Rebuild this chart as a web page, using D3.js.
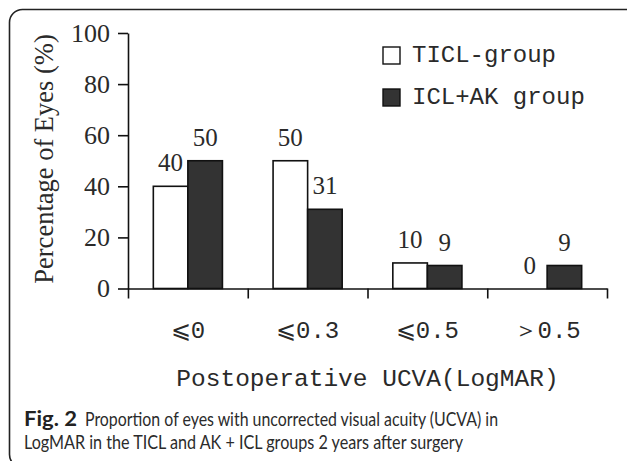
<!DOCTYPE html>
<html>
<head>
<meta charset="utf-8">
<script src="https://cdn.jsdelivr.net/npm/d3@7"></script>
<style>
  body { margin: 0; background: #fff; }
  svg { display: block; }
</style>
</head>
<body>
<svg id="chart"></svg>
<script>
const categories = ['⩽0', '⩽0.3', '⩽0.5', '＞0.5'];
const groups = ['TICL-group', 'ICL+AK group'];
const ticlValues = [40, 50, 10, 0];
const iclAkValues = [50, 31, 9, 9];
const yTicks = [0, 20, 40, 60, 80, 100];
const colors = ['#ffffff', '#333333'];

const width = 627, height = 461;
const margin = { top: 33, right: 20, bottom: 172.5, left: 128 };
const plotW = 607 - margin.left;
const plotH = 288.5 - margin.top;

const svg = d3.select('#chart').attr('width', width).attr('height', height);

// outer rounded frame, right and bottom sides run off the picture
svg.append('rect')
    .attr('x', 9.5).attr('y', 9.5)
    .attr('width', 660).attr('height', 458)
    .attr('rx', 13)
    .attr('fill', 'none')
    .attr('stroke', '#222')
    .attr('stroke-width', 1.6);

const chart = svg.append('g')
    .attr('transform', `translate(${margin.left},${margin.top})`);

const x0 = d3.scaleBand()
    .domain(categories)
    .range([0, plotW])
    .paddingInner(0.423)
    .paddingOuter(0.2115);

const x1 = d3.scaleBand()
    .domain(groups)
    .range([0, x0.bandwidth()]);

const xEdges = d3.scaleLinear()
    .domain([0, categories.length])
    .range([0, plotW]);

const y = d3.scaleLinear()
    .domain([0, 100])
    .range([plotH, 0]);

const rows = categories.map((c, i) => ({ cat: c, values: [ticlValues[i], iclAkValues[i]] }));

const serif = '"Liberation Serif", "Times New Roman", serif';
const mono = '"Liberation Mono", "DejaVu Sans Mono", monospace';

// bars
const groupG = chart.selectAll('.grp')
    .data(rows)
    .join('g')
    .attr('class', 'grp')
    .attr('transform', d => `translate(${x0(d.cat)},0)`);

groupG.selectAll('rect')
    .data(d => d.values.map((v, j) => ({ key: groups[j], v, j })).filter(e => e.v > 0))
    .join('rect')
    .attr('x', d => x1(d.key))
    .attr('y', d => y(d.v))
    .attr('width', x1.bandwidth())
    .attr('height', d => plotH - y(d.v))
    .attr('fill', d => colors[d.j])
    .attr('stroke', '#111')
    .attr('stroke-width', 1.6);

groupG.selectAll('.val')
    .data(d => d.values.map((v, j) => ({ key: groups[j], v, j })))
    .join('text')
    .attr('class', 'val')
    .attr('x', d => x1(d.key) + x1.bandwidth() / 2)
    .attr('y', d => y(d.v) - 15)
    .attr('text-anchor', 'middle')
    .attr('font-family', serif)
    .attr('font-size', 25)
    .attr('fill', '#2a2a2a')
    .text(d => d.v);

// y axis
const yAxisG = chart.append('g')
    .call(d3.axisLeft(y).tickValues(yTicks).tickSize(10).tickPadding(8).tickSizeOuter(0));
yAxisG.selectAll('text')
    .attr('font-family', serif)
    .attr('font-size', 26)
    .attr('fill', '#2a2a2a');

// x axis: boundary ticks
chart.append('g')
    .attr('transform', `translate(0,${plotH})`)
    .call(d3.axisBottom(xEdges).tickValues(d3.range(categories.length + 1)).tickSize(10).tickFormat('').tickSizeOuter(0));

// x axis: category labels
const xLabG = chart.append('g')
    .attr('transform', `translate(0,${plotH})`)
    .call(d3.axisBottom(x0).tickSize(0).tickPadding(32));
xLabG.select('.domain').remove();
xLabG.selectAll('text')
    .attr('font-family', mono)
    .attr('font-size', 24)
    .attr('fill', '#2a2a2a');

chart.selectAll('.domain, .tick line')
    .attr('stroke', '#111')
    .attr('stroke-width', 1.6);

// axis titles
svg.append('text')
    .attr('transform', 'translate(53,159) rotate(-90)')
    .attr('text-anchor', 'middle')
    .attr('font-family', serif)
    .attr('font-size', 26.5)
    .attr('fill', '#2a2a2a')
    .text('Percentage of Eyes (%)');

svg.append('text')
    .attr('x', margin.left + plotW / 2)
    .attr('y', 386)
    .attr('text-anchor', 'middle')
    .attr('font-family', mono)
    .attr('font-size', 24.5)
    .attr('fill', '#2a2a2a')
    .text('Postoperative UCVA(LogMAR)');

// legend
const legend = svg.append('g').attr('transform', 'translate(383,47)');
const item = legend.selectAll('g')
    .data(groups)
    .join('g')
    .attr('transform', (d, i) => `translate(0,${i * 42})`);
item.append('rect')
    .attr('width', 17).attr('height', 17)
    .attr('fill', (d, i) => colors[i])
    .attr('stroke', '#111')
    .attr('stroke-width', 1.4);
item.append('text')
    .attr('x', 29)
    .attr('y', 15)
    .attr('font-family', mono)
    .attr('font-size', 24)
    .attr('fill', '#2a2a2a')
    .text(d => d);

// caption
const capFont = 'Lato, "Noto Sans", sans-serif';
svg.append('text')
    .attr('x', 24).attr('y', 426)
    .attr('font-family', capFont)
    .attr('font-size', 20)
    .attr('font-weight', 'bold')
    .attr('fill', '#222')
    .attr('textLength', 53)
    .attr('lengthAdjust', 'spacingAndGlyphs')
    .text('Fig. 2');

svg.append('text')
    .attr('x', 85).attr('y', 426)
    .attr('font-family', capFont)
    .attr('font-size', 20)
    .attr('fill', '#2b2b2b')
    .attr('textLength', 413)
    .attr('lengthAdjust', 'spacingAndGlyphs')
    .text('Proportion of eyes with uncorrected visual acuity (UCVA) in');

svg.append('text')
    .attr('x', 24).attr('y', 449)
    .attr('font-family', capFont)
    .attr('font-size', 20)
    .attr('fill', '#2b2b2b')
    .attr('textLength', 439)
    .attr('lengthAdjust', 'spacingAndGlyphs')
    .text('LogMAR in the TICL and AK + ICL groups 2 years after surgery');
</script>
</body>
</html>
